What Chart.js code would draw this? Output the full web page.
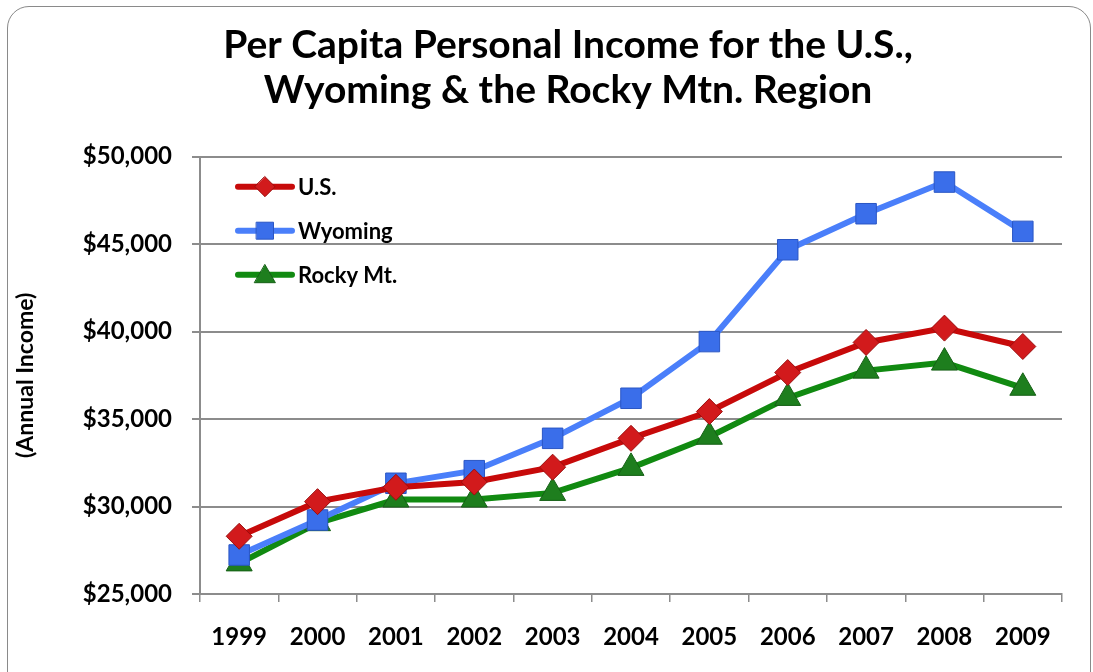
<!DOCTYPE html>
<html>
<head>
<meta charset="utf-8">
<script src="https://cdn.jsdelivr.net/npm/chart.js@4.4.1/dist/chart.umd.min.js"></script>
<style>
  html, body { margin: 0; padding: 0; background: #ffffff; }
  #wrap { position: relative; width: 1093px; height: 672px; overflow: hidden; }
  #frame { position: absolute; left: 7px; top: 6px; width: 1084px; height: 720px;
           border: 1.5px solid #8a8a8a; border-radius: 22px; box-sizing: border-box; }
  canvas { position: absolute; left: 0; top: 0; }
</style>
</head>
<body>
<div id="wrap">
  <div id="frame"></div>
  <canvas id="c" width="1093" height="672"></canvas>
</div>
<script>
const years = ['1999','2000','2001','2002','2003','2004','2005','2006','2007','2008','2009'];
const usIncome = [28300, 30280, 31100, 31400, 32250, 33900, 35430, 37660, 39380, 40200, 39150];
const wyomingIncome = [27230, 29230, 31330, 32050, 33900, 36190, 39430, 44680, 46740, 48550, 45730];
const rockyIncome = [26750, 29050, 30400, 30400, 30780, 32210, 33990, 36210, 37770, 38230, 36790];
const seriesNames = ['U.S.', 'Wyoming', 'Rocky Mt.'];
const yTickValues = [25000, 30000, 35000, 40000, 45000, 50000];
const titleLines = ['Per Capita Personal Income for the U.S.,', 'Wyoming & the Rocky Mtn. Region'];
const yAxisTitle = '(Annual Income)';

const FONT = 'Lato, "Open Sans", sans-serif';

const styles = [
  { line: '#C70A0A', fill: '#D21A1C', border: '#9A0E0E', shape: 'rectRot', r: 13, lr: 10 },
  { line: '#4A7FFA', fill: '#3A6EEA', border: '#2A56C4', shape: 'rect', r: 14.5, lr: 12 },
  { line: '#118A11', fill: '#1E7E1E', border: '#156015', shape: 'triangle', r: 15, lr: 12 }
];
const values = [usIncome, wyomingIncome, rockyIncome];

const datasets = seriesNames.map((name, i) => ({
  label: name,
  data: values[i],
  borderColor: styles[i].line,
  backgroundColor: styles[i].fill,
  borderWidth: 6,
  pointStyle: styles[i].shape,
  pointRadius: styles[i].r,
  pointHoverRadius: styles[i].r,
  pointBackgroundColor: styles[i].fill,
  pointBorderColor: styles[i].border,
  pointBorderWidth: 1,
  tension: 0,
  fill: false
}));

function drawMarker(ctx, shape, x, y, r) {
  ctx.beginPath();
  if (shape === 'rectRot') {
    ctx.moveTo(x, y - r); ctx.lineTo(x + r, y); ctx.lineTo(x, y + r); ctx.lineTo(x - r, y);
  } else if (shape === 'rect') {
    const s = r * Math.SQRT1_2;
    ctx.rect(x - s, y - s, 2 * s, 2 * s);
  } else {
    ctx.moveTo(x, y - r);
    ctx.lineTo(x + r * 0.866, y + r * 0.5);
    ctx.lineTo(x - r * 0.866, y + r * 0.5);
  }
  ctx.closePath();
  ctx.fill();
  ctx.stroke();
}

const insideLegend = {
  id: 'insideLegend',
  afterDatasetsDraw(chart) {
    const ctx = chart.ctx;
    const area = chart.chartArea;
    const x0 = area.left + 38, x1 = area.left + 92, xm = (x0 + x1) / 2;
    chart.data.datasets.forEach((ds, i) => {
      const y = area.top + 30 + i * 44;
      ctx.save();
      ctx.strokeStyle = ds.borderColor;
      ctx.lineWidth = 6;
      ctx.lineCap = 'round';
      ctx.beginPath(); ctx.moveTo(x0, y); ctx.lineTo(x1, y); ctx.stroke();
      ctx.fillStyle = ds.pointBackgroundColor;
      ctx.strokeStyle = ds.pointBorderColor;
      ctx.lineWidth = 1;
      drawMarker(ctx, ds.pointStyle, xm, y + (ds.pointStyle === 'triangle' ? 2 : 0), styles[i].lr);
      ctx.fillStyle = '#000';
      ctx.font = 'bold 22px ' + FONT;
      ctx.textBaseline = 'middle';
      ctx.textAlign = 'left';
      ctx.fillText(ds.label, x1 + 6, y + 1);
      ctx.restore();
    });
  }
};

const shiftTitle = {
  id: 'shiftTitle',
  afterLayout(chart) {
    if (chart.titleBlock) {
      chart.titleBlock.left = 43;
      chart.titleBlock.right = 1093;
    }
  }
};

new Chart(document.getElementById('c'), {
  type: 'line',
  data: { labels: years, datasets },
  plugins: [insideLegend, shiftTitle],
  options: {
    responsive: false,
    animation: false,
    layout: { padding: { left: 0, right: 31, top: 0, bottom: 0 } },
    plugins: {
      legend: { display: false },
      tooltip: { enabled: false },
      title: {
        display: true,
        text: titleLines,
        color: '#000',
        font: { family: FONT, size: 39, weight: 'bold', lineHeight: 1.15 },
        padding: { top: 23, bottom: 44 }
      }
    },
    scales: {
      x: {
        type: 'category',
        offset: true,
        grid: { offset: true, drawOnChartArea: false, drawTicks: true, tickLength: 8, color: '#8c8c8c', lineWidth: 1.5 },
        border: { color: '#8c8c8c', width: 2 },
        ticks: { color: '#000', font: { family: FONT, size: 24, weight: 'bold' }, padding: 21, maxRotation: 0, autoSkip: false },
        afterFit(scale) { scale.height = 78; }
      },
      y: {
        min: 25000,
        max: 50000,
        afterBuildTicks(scale) { scale.ticks = yTickValues.map(v => ({ value: v })); },
        grid: { color: '#8c8c8c', lineWidth: 2, tickLength: 8 },
        border: { color: '#8c8c8c', width: 2 },
        ticks: {
          color: '#000',
          font: { family: FONT, size: 24, weight: 'bold' },
          padding: 20,
          callback: v => '$' + Number(v).toLocaleString('en-US')
        },
        title: {
          display: true,
          text: yAxisTitle,
          color: '#000',
          font: { family: FONT, size: 23, weight: 'bold' },
          padding: { top: 12, bottom: 0 }
        },
        afterFit(scale) { scale.width = 200; }
      }
    }
  }
});
</script>
</body>
</html>
